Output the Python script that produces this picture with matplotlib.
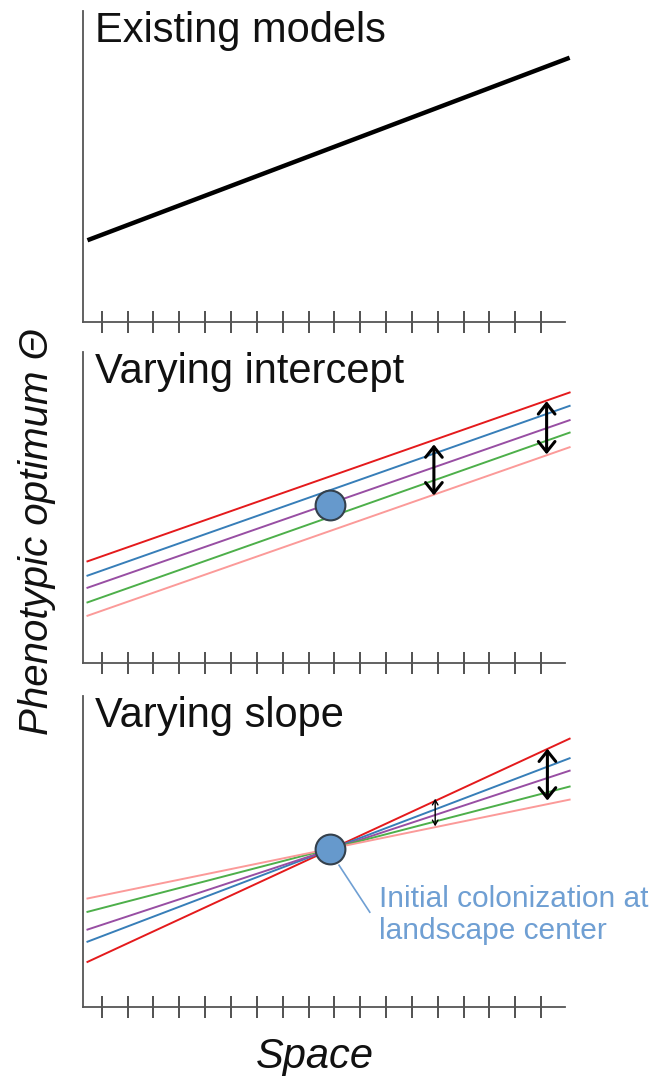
import matplotlib
matplotlib.use("Agg")
import matplotlib.pyplot as plt

plt.rcParams["font.family"] = ["Liberation Sans", "DejaVu Sans"]

# x positions (tick units along "space")
tick_pos = list(range(1, 19))
x_lim = (0.265, 18.92)
x_ends = [0.45, 19.1]

# Panel titles
titles = ["Existing models", "Varying intercept", "Varying slope"]

# Top panel: single line, values at left / right end
top_line = [2.62, 8.49]

# Middle panel: 5 parallel lines (left, right)
line_colors = ["#e41a1c", "#377eb8", "#984ea3", "#4daf4a", "#fb9a99"]
mid_left = [3.27, 2.81, 2.42, 1.95, 1.52]
mid_right = [8.70, 8.27, 7.81, 7.41, 6.94]
mid_point = (9.83, 5.08)
mid_arrows = [(13.85, 7.03, 5.39), (18.21, 8.42, 6.71)]

# Bottom panel: 5 lines through the center (left, right)
bot_left = [1.44, 2.09, 2.48, 3.05, 3.48]
bot_right = [8.62, 7.99, 7.59, 7.08, 6.66]
bot_point = (9.83, 5.08)
bot_arrows = [(13.9, 6.69, 5.80, "small"), (18.24, 8.30, 6.63, "big")]

note_text = "Initial colonization at\nlandscape center"
note_color = "#6f9fd3"

fig = plt.figure(figsize=(6.53, 10.76), dpi=100)
bottoms = [0.701, 0.3838, 0.0644]
axes = [fig.add_axes([0.1266, b, 0.7386, 0.289]) for b in bottoms]

for ax, title in zip(axes, titles):
    ax.set_xlim(*x_lim)
    ax.set_ylim(0, 10)
    for s in ["top", "right"]:
        ax.spines[s].set_visible(False)
    for s in ["left", "bottom"]:
        ax.spines[s].set_color("#555555")
        ax.spines[s].set_linewidth(1.3)
    ax.set_xticks(tick_pos)
    ax.set_xticklabels([])
    ax.set_yticks([])
    ax.tick_params(axis="x", direction="inout", length=16, width=1.2, color="#333333")
    ax.text(0.025, 1.0, title, transform=ax.transAxes, fontsize=30,
            va="top", ha="left", color="#111111")


def draw_arrow(ax, x, y0, y1, size):
    if size == "big":
        style = "<->,head_length=0.5,head_width=0.4"
        lw, ms = 2.2, 15
    else:
        style = "<->,head_length=0.35,head_width=0.2"
        lw, ms = 1.0, 10
    ax.annotate("", xy=(x, y0), xytext=(x, y1),
                arrowprops=dict(arrowstyle=style, color="black", lw=lw,
                                mutation_scale=ms, shrinkA=0, shrinkB=0),
                zorder=5)


# top
axes[0].plot(x_ends, top_line, color="black", lw=3.2, solid_capstyle="butt", clip_on=False)

# middle
ax = axes[1]
for c, l, r in zip(line_colors, mid_left, mid_right):
    ax.plot(x_ends, [l, r], color=c, lw=1.4, clip_on=False)
ax.scatter([mid_point[0]], [mid_point[1]], s=460, color="#6699cc",
           edgecolor="#34404c", linewidth=1.5, zorder=6)
for x, a, b in mid_arrows:
    draw_arrow(ax, x, a, b, "big")

# bottom
ax = axes[2]
for c, l, r in zip(line_colors, bot_left, bot_right):
    ax.plot(x_ends, [l, r], color=c, lw=1.4, clip_on=False)
ax.scatter([bot_point[0]], [bot_point[1]], s=460, color="#6699cc",
           edgecolor="#34404c", linewidth=1.5, zorder=6)
for x, a, b, size in bot_arrows:
    draw_arrow(ax, x, a, b, size)
ax.plot([10.18, 11.37], [4.55, 3.04], color=note_color, lw=1.2, zorder=4)
ax.text(11.72, 2.96, note_text, color=note_color, fontsize=21.5,
        ha="left", va="center", linespacing=1.17)

fig.text(0.056, 0.506, "Phenotypic optimum \u0398", rotation=90, fontsize=29,
         style="italic", ha="center", va="center", color="#111111")
fig.text(0.482, 0.0175, "Space", fontsize=30, style="italic",
         ha="center", va="center", color="#111111")

fig.savefig("out.png", dpi=100)
